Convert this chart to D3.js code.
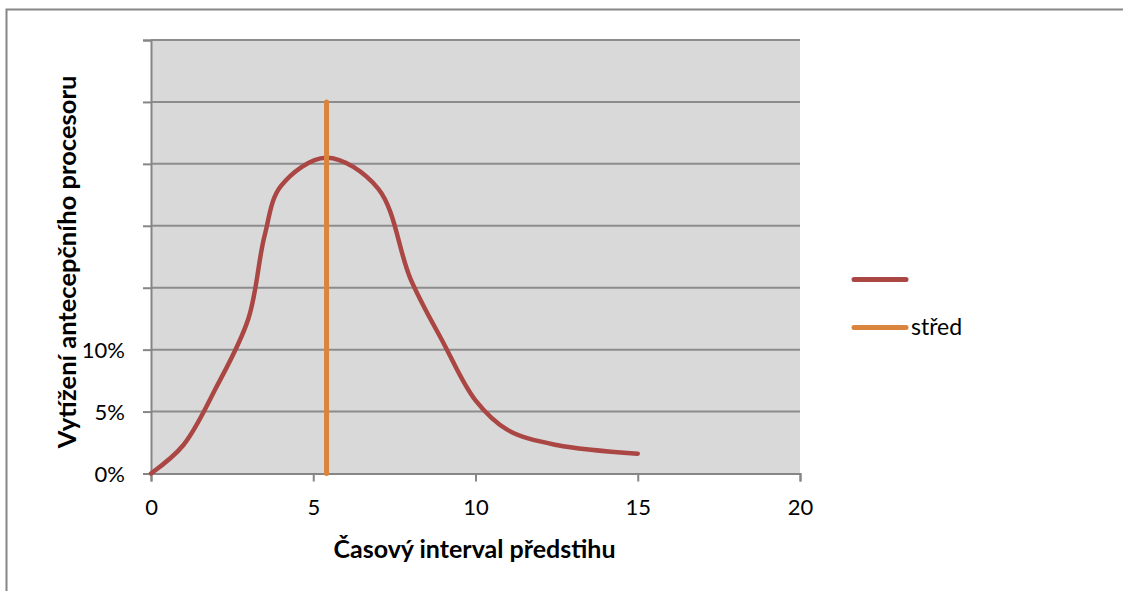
<!DOCTYPE html>
<html>
<head>
<meta charset="utf-8">
<script src="https://cdn.jsdelivr.net/npm/d3@7"></script>
<style>
  html, body { margin: 0; padding: 0; background: #fff; }
  svg { display: block; }
  text { font-family: Lato, "Noto Sans", sans-serif; fill: #000; }
</style>
</head>
<body>
<svg id="chart" width="1123" height="591"></svg>
<script>
// ---- data ----
const curveX = [0, 1, 2, 3, 3.5, 4, 5.4, 7, 8, 9, 10, 11, 12.5, 15];
const curveY = [0, 0.023, 0.069, 0.125, 0.192, 0.232, 0.255, 0.23, 0.157, 0.106, 0.059, 0.035, 0.023, 0.016];
const stredX = [5.41, 5.41];
const stredY = [0, 0.30];
const xTicks = [0, 5, 10, 15, 20];
const yTicks = [0, 0.05, 0.10, 0.15, 0.20, 0.25, 0.30, 0.35];
const yTickLabels = ["0%", "5%", "10%", "", "", "", "", ""];
const seriesNames = ["", "střed"];
const xTitle = "Časový interval předstihu";
const yTitle = "Vytížení antecepčního procesoru";

const svg = d3.select("#chart");
const plot = { left: 151, right: 800, top: 40, bottom: 473.5 };
const x = d3.scaleLinear().domain([0, 20]).range([plot.left, plot.right]);
const y = d3.scaleLinear().domain([0, 0.35]).range([plot.bottom, plot.top]);

// outer border
svg.append("rect").attr("x", 6.5).attr("y", 9.5).attr("width", 1140).attr("height", 600)
  .attr("fill", "#fff").attr("stroke", "#868686").attr("stroke-width", 2);

// plot background
svg.append("rect").attr("x", plot.left).attr("y", plot.top)
  .attr("width", plot.right - plot.left).attr("height", plot.bottom - plot.top)
  .attr("fill", "#D9D9D9");

// gridlines
svg.append("g").selectAll("line").data(yTicks.slice(1)).join("line")
  .attr("x1", plot.left).attr("x2", plot.right)
  .attr("y1", d => y(d)).attr("y2", d => y(d))
  .attr("stroke", "#8C8C8C").attr("stroke-width", 2);

// y axis
const yAxis = d3.axisLeft(y).tickValues(yTicks).tickSize(8)
  .tickFormat((d, i) => yTickLabels[i]);
const gy = svg.append("g").attr("transform", `translate(${plot.left},0)`).call(yAxis);
gy.select(".domain").attr("stroke", "#868686").attr("stroke-width", 2);
gy.selectAll(".tick line").attr("stroke", "#868686").attr("stroke-width", 2);
gy.selectAll(".tick text").attr("x", -26).attr("dy", "0.36em")
  .attr("font-size", 22).attr("font-family", "Lato, sans-serif").attr("fill", "#000");

// x axis
const xAxis = d3.axisBottom(x).tickValues(xTicks).tickSize(8)
  .tickFormat(d3.format("d"));
const gx = svg.append("g").attr("transform", `translate(0,${plot.bottom})`).call(xAxis);
gx.select(".domain").attr("stroke", "#868686").attr("stroke-width", 2);
gx.selectAll(".tick line").attr("stroke", "#868686").attr("stroke-width", 2);
gx.selectAll(".tick text").attr("y", 41.5).attr("dy", 0)
  .attr("font-size", 22).attr("font-family", "Lato, sans-serif").attr("fill", "#000");

// curve
const pts = curveX.map((v, i) => [v, curveY[i]]);
const line = d3.line().x(d => x(d[0])).y(d => y(d[1])).curve(d3.curveCatmullRom.alpha(0.5));
svg.append("path").datum(pts).attr("d", line)
  .attr("fill", "none").attr("stroke", "#AA4643").attr("stroke-width", 4.5)
  .attr("stroke-linecap", "round").attr("stroke-linejoin", "round");

// střed line
const sPts = stredX.map((v, i) => [v, stredY[i]]);
svg.append("path").datum(sPts).attr("d", d3.line().x(d => x(d[0])).y(d => y(d[1])))
  .attr("fill", "none").attr("stroke", "#DB843D").attr("stroke-width", 5)
  .attr("stroke-linecap", "round");

// legend
const legColors = ["#AA4643", "#DB843D"];
const legY = [279.5, 327.5];
const leg = svg.append("g");
seriesNames.forEach((name, i) => {
  leg.append("line").attr("x1", 854).attr("x2", 906).attr("y1", legY[i]).attr("y2", legY[i])
    .attr("stroke", legColors[i]).attr("stroke-width", 5).attr("stroke-linecap", "round");
  leg.append("text").attr("x", 911).attr("y", legY[i] + 7.5).attr("font-size", 23).text(name);
});

// axis titles
svg.append("text").attr("x", (plot.left + plot.right) / 2 - 1).attr("y", 558)
  .attr("text-anchor", "middle").attr("font-size", 25).attr("font-weight", "bold").text(xTitle);
svg.append("text").attr("transform", `translate(76,262) rotate(-90)`)
  .attr("text-anchor", "middle").attr("font-size", 25.5).attr("font-weight", "bold").text(yTitle);
</script>
</body>
</html>
